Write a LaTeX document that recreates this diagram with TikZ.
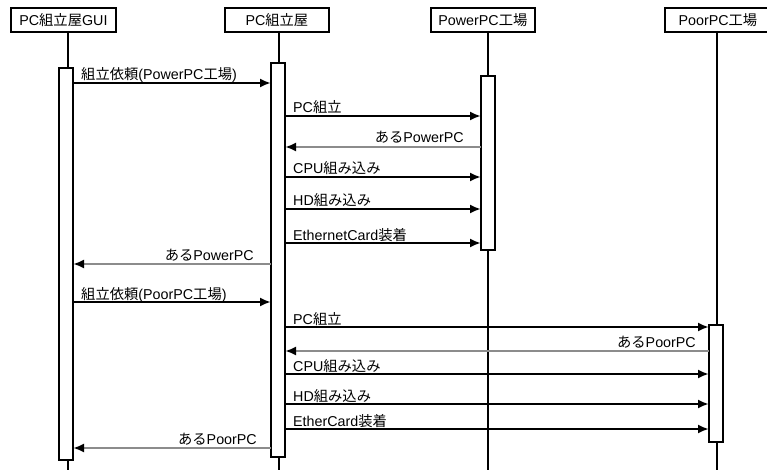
\documentclass[tikz,border=0pt]{standalone}
\usepackage{fontspec}
\setmainfont{Liberation Sans}
\newfontfamily\jp{Noto Sans CJK JP}
\usetikzlibrary{arrows.meta}
\definecolor{retgray}{RGB}{140,140,140}
\tikzset{
  x=1pt, y=-1pt,
  every node/.style={font=\fontsize{14.3}{16}\selectfont, inner sep=0pt},
  header/.style={draw=black, line width=1.8pt, fill=white, minimum height=24pt, anchor=north west},
  lifeline/.style={draw=black, line width=1.8pt},
  actbox/.style={draw=black, line width=1.5pt, fill=white},
  callmsg/.style={draw=black, line width=2.6pt, -{Latex[length=11pt,width=9pt,black]}},
  retmsg/.style={draw=retgray, line width=2.6pt, -{Latex[length=11pt,width=9pt,black]}},
  calllbl/.style={anchor=base west},
  retlbl/.style={anchor=base east},
}
\begin{document}
\begin{tikzpicture}
\useasboundingbox[fill=white] (0,0) rectangle (767,470);
% headers
\node[header, minimum width=105pt] (hgui) at (10,7) {PC{\jp 組立屋}GUI};
\node[header, minimum width=104pt] (hpc) at (224,7) {PC{\jp 組立屋}};
\node[header, minimum width=104pt] (hpow) at (430,7) {PowerPC{\jp 工場}};
\node[header, minimum width=106pt] (hpoor) at (664,7) {PoorPC{\jp 工場}};
% lifeline coordinates
\coordinate (l1a) at (68,31); \coordinate (l1b) at (68,470);
\coordinate (l2a) at (279,31); \coordinate (l2b) at (279,470);
\coordinate (l3a) at (488,31); \coordinate (l3b) at (488,470);
\coordinate (l4a) at (717,31); \coordinate (l4b) at (717,470);
\draw[lifeline] (l1a) -- (l1b);
\draw[lifeline] (l2a) -- (l2b);
\draw[lifeline] (l3a) -- (l3b);
\draw[lifeline] (l4a) -- (l4b);
% activation boxes
\draw[actbox] (59,68) rectangle (73,460);
\draw[actbox] (271,63) rectangle (285,457);
\draw[actbox] (481,76) rectangle (495,250);
\draw[actbox] (709,325) rectangle (723,442);
% messages
\draw[callmsg] (73,83) -- (271,83);
\node[calllbl] (t1) at (81,80) {{\jp 組立依頼}(PowerPC{\jp 工場})};
\draw[callmsg] (285,116) -- (481,116);
\node[calllbl] (t2) at (293,113) {PC{\jp 組立}};
\draw[retmsg] (481,147) -- (285,147);
\node[retlbl] (t3) at (464,143) {{\jp ある}PowerPC};
\draw[callmsg] (285,177) -- (481,177);
\node[calllbl] (t4) at (293,174) {CPU{\jp 組み込み}};
\draw[callmsg] (285,209) -- (481,209);
\node[calllbl] (t5) at (293,206) {HD{\jp 組み込み}};
\draw[callmsg] (285,243) -- (481,243);
\node[calllbl] (t6) at (293,240) {EthernetCard{\jp 装着}};
\draw[retmsg] (271,264) -- (73,264);
\node[retlbl] (t7) at (254,260) {{\jp ある}PowerPC};
\draw[callmsg] (73,302) -- (271,302);
\node[calllbl] (t8) at (81,299) {{\jp 組立依頼}(PoorPC{\jp 工場})};
\draw[callmsg] (285,327) -- (709,327);
\node[calllbl] (t9) at (293,324) {PC{\jp 組立}};
\draw[retmsg] (709,351) -- (285,351);
\node[retlbl] (t10) at (696,347) {{\jp ある}PoorPC};
\draw[callmsg] (285,374) -- (709,374);
\node[calllbl] (t11) at (293,371) {CPU{\jp 組み込み}};
\draw[callmsg] (285,404) -- (709,404);
\node[calllbl] (t12) at (293,401) {HD{\jp 組み込み}};
\draw[callmsg] (285,429) -- (709,429);
\node[calllbl] (t13) at (293,426) {EtherCard{\jp 装着}};
\draw[retmsg] (271,448) -- (73,448);
\node[retlbl] (t14) at (257,444) {{\jp ある}PoorPC};
\end{tikzpicture}
\end{document}
